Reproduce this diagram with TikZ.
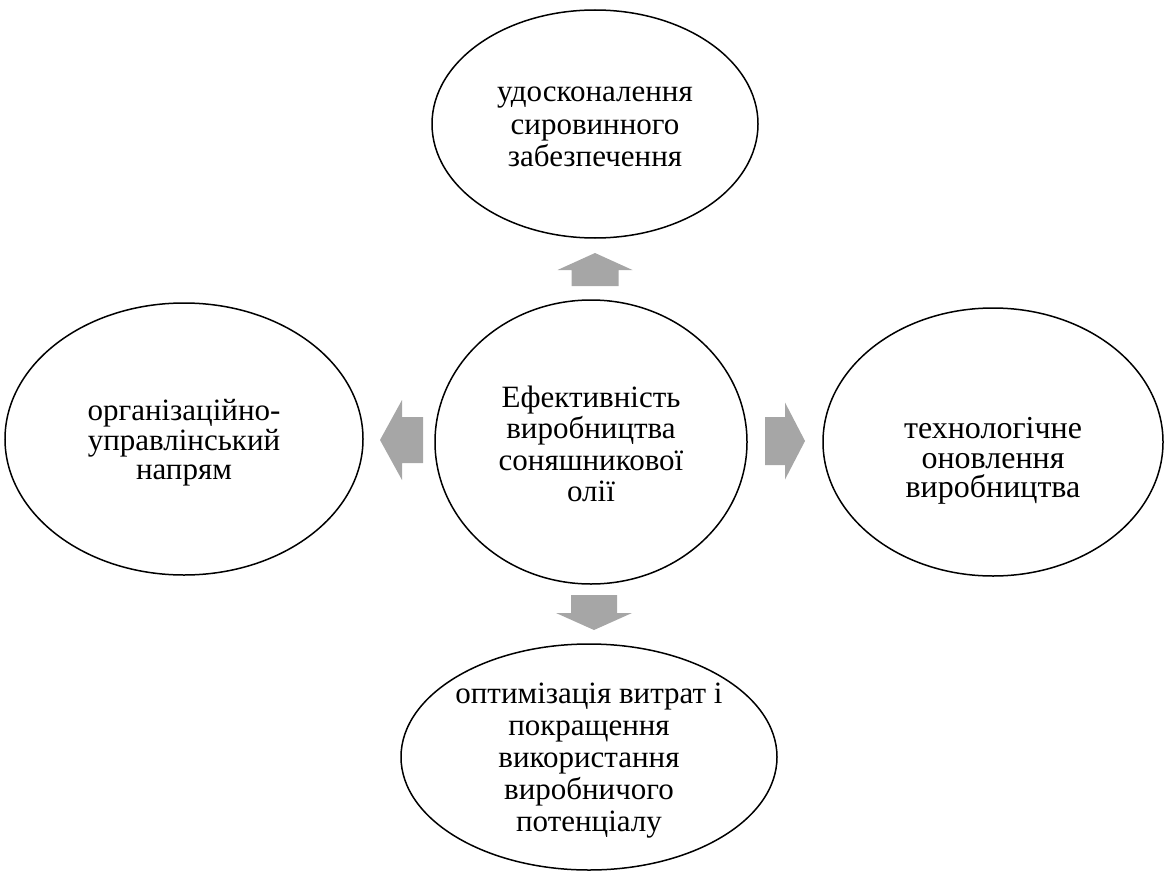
\documentclass[tikz,border=0pt]{standalone}
\usepackage{fontspec}
\setmainfont{Liberation Serif}
\usetikzlibrary{shapes.geometric}
\definecolor{arrgray}{RGB}{166,166,166}
\tikzset{
  oval/.style={ellipse, draw=black, line width=1.5pt, inner sep=0pt},
  ovaltext/.style={inner sep=0pt, align=center, font=\fontsize{31}{31.5}\selectfont},
  blockarrow/.style={fill=arrgray, draw=none}
}
\begin{document}
\begin{tikzpicture}[x=1pt,y=-1pt]
\useasboundingbox (0,0) rectangle (1166,872);
\node[oval, minimum width=326pt, minimum height=228pt] (top) at (595,124) {};
\node[oval, minimum width=358pt, minimum height=272pt] (left) at (184,439) {};
\node[oval, minimum width=312pt, minimum height=284pt] (center) at (591,442) {};
\node[oval, minimum width=340pt, minimum height=268pt] (right) at (993,442) {};
\node[oval, minimum width=376pt, minimum height=226pt] (bottom) at (589,757) {};
\node[ovaltext, font=\fontsize{31}{32.5}\selectfont] (toptext) at ([yshift=-3pt]top.center)
  {удосконалення\\сировинного\\забезпечення};
\node[ovaltext, font=\fontsize{31}{29.5}\selectfont] (lefttext) at ([yshift=-4pt]left.center)
  {організаційно-\\управлінський\\напрям};
\node[ovaltext] (centertext) at ([yshift=-2pt]center.center)
  {Ефективність\\виробництва\\соняшникової\\олії};
\node[ovaltext, font=\fontsize{32}{29.5}\selectfont] (righttext) at ([yshift=-19pt]right.center)
  {технологічне\\оновлення\\виробництва};
\node[ovaltext, font=\fontsize{31}{32}\selectfont] (bottomtext) at ([yshift=-4pt]bottom.center)
  {оптимізація витрат і\\покращення\\використання\\виробничого\\потенціалу};
% block arrows
\coordinate (au) at (595,270);
\fill[blockarrow] (au) ++(0,-17) -- ++(37.5,17) -- ++(-14,0) -- ++(0,16) -- ++(-47,0) -- ++(0,-16) -- ++(-14,0) -- cycle;
\coordinate (ad) at (594,613);
\fill[blockarrow] (ad) ++(0,17) -- ++(38,-17) -- ++(-15,0) -- ++(0,-18) -- ++(-46,0) -- ++(0,18) -- ++(-15,0) -- cycle;
\coordinate (al) at (402,440);
\fill[blockarrow] (al) ++(-22,0) -- ++(22,-40) -- ++(0,17) -- ++(21,0) -- ++(0,46) -- ++(-21,0) -- ++(0,17) -- cycle;
\coordinate (ar) at (785,441);
\fill[blockarrow] (ar) ++(20,0) -- ++(-20,-38.5) -- ++(0,14.5) -- ++(-20,0) -- ++(0,48) -- ++(20,0) -- ++(0,14.5) -- cycle;
\end{tikzpicture}
\end{document}
